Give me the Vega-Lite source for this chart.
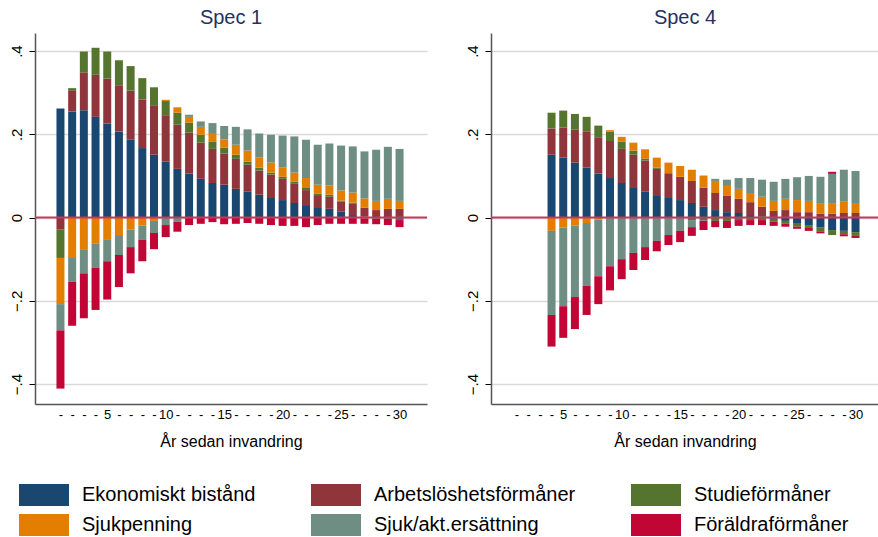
{
  "$schema": "https://vega.github.io/schema/vega-lite/v6.json",
  "background": "white",
  "padding": {"left": 9, "top": 8, "right": 0, "bottom": 0},
  "config": {
    "font": "Liberation Sans",
    "view": {"stroke": null},
    "concat": {"spacing": 37},
    "axis": {"labelColor": "black", "titleColor": "black", "titleFontWeight": "normal", "domainColor": "#555555", "domainWidth": 1.5, "tickColor": "black"},
    "title": {"fontSize": 20, "fontWeight": "normal", "color": "#1f3260", "offset": 5},
    "legend": {
      "orient": "none", "legendX": -2, "legendY": 451, "columns": 3, "direction": "horizontal",
      "symbolType": "M-2.2727,-1H2.2727V1H-2.2727Z", "symbolSize": 484, "symbolOpacity": 1, "symbolStrokeWidth": 0,
      "labelFontSize": 20, "labelOffset": 27, "labelColor": "black", "columnPadding": 55, "rowPadding": 8, "padding": 0, "labelLimit": 400
    }
  },
  "data": {"values": [
    {"spec":"Spec 1","year":1,"cat":"Ekonomiskt bistånd","value":0.262},
    {"spec":"Spec 1","year":1,"cat":"Arbetslöshetsförmåner","value":-0.028},
    {"spec":"Spec 1","year":1,"cat":"Studieförmåner","value":-0.069},
    {"spec":"Spec 1","year":1,"cat":"Sjukpenning","value":-0.111},
    {"spec":"Spec 1","year":1,"cat":"Sjuk/akt.ersättning","value":-0.063},
    {"spec":"Spec 1","year":1,"cat":"Föräldraförmåner","value":-0.140},
    {"spec":"Spec 1","year":2,"cat":"Ekonomiskt bistånd","value":0.255},
    {"spec":"Spec 1","year":2,"cat":"Arbetslöshetsförmåner","value":0.051},
    {"spec":"Spec 1","year":2,"cat":"Studieförmåner","value":0.005},
    {"spec":"Spec 1","year":2,"cat":"Sjukpenning","value":-0.095},
    {"spec":"Spec 1","year":2,"cat":"Sjuk/akt.ersättning","value":-0.059},
    {"spec":"Spec 1","year":2,"cat":"Föräldraförmåner","value":-0.106},
    {"spec":"Spec 1","year":3,"cat":"Ekonomiskt bistånd","value":0.258},
    {"spec":"Spec 1","year":3,"cat":"Arbetslöshetsförmåner","value":0.091},
    {"spec":"Spec 1","year":3,"cat":"Studieförmåner","value":0.050},
    {"spec":"Spec 1","year":3,"cat":"Sjukpenning","value":-0.076},
    {"spec":"Spec 1","year":3,"cat":"Sjuk/akt.ersättning","value":-0.058},
    {"spec":"Spec 1","year":3,"cat":"Föräldraförmåner","value":-0.108},
    {"spec":"Spec 1","year":4,"cat":"Ekonomiskt bistånd","value":0.242},
    {"spec":"Spec 1","year":4,"cat":"Arbetslöshetsförmåner","value":0.101},
    {"spec":"Spec 1","year":4,"cat":"Studieförmåner","value":0.065},
    {"spec":"Spec 1","year":4,"cat":"Sjukpenning","value":-0.063},
    {"spec":"Spec 1","year":4,"cat":"Sjuk/akt.ersättning","value":-0.058},
    {"spec":"Spec 1","year":4,"cat":"Föräldraförmåner","value":-0.101},
    {"spec":"Spec 1","year":5,"cat":"Ekonomiskt bistånd","value":0.226},
    {"spec":"Spec 1","year":5,"cat":"Arbetslöshetsförmåner","value":0.108},
    {"spec":"Spec 1","year":5,"cat":"Studieförmåner","value":0.065},
    {"spec":"Spec 1","year":5,"cat":"Sjukpenning","value":-0.052},
    {"spec":"Spec 1","year":5,"cat":"Sjuk/akt.ersättning","value":-0.053},
    {"spec":"Spec 1","year":5,"cat":"Föräldraförmåner","value":-0.092},
    {"spec":"Spec 1","year":6,"cat":"Ekonomiskt bistånd","value":0.207},
    {"spec":"Spec 1","year":6,"cat":"Arbetslöshetsförmåner","value":0.111},
    {"spec":"Spec 1","year":6,"cat":"Studieförmåner","value":0.060},
    {"spec":"Spec 1","year":6,"cat":"Sjukpenning","value":-0.042},
    {"spec":"Spec 1","year":6,"cat":"Sjuk/akt.ersättning","value":-0.048},
    {"spec":"Spec 1","year":6,"cat":"Föräldraförmåner","value":-0.077},
    {"spec":"Spec 1","year":7,"cat":"Ekonomiskt bistånd","value":0.188},
    {"spec":"Spec 1","year":7,"cat":"Arbetslöshetsförmåner","value":0.117},
    {"spec":"Spec 1","year":7,"cat":"Studieförmåner","value":0.059},
    {"spec":"Spec 1","year":7,"cat":"Sjukpenning","value":-0.029},
    {"spec":"Spec 1","year":7,"cat":"Sjuk/akt.ersättning","value":-0.042},
    {"spec":"Spec 1","year":7,"cat":"Föräldraförmåner","value":-0.063},
    {"spec":"Spec 1","year":8,"cat":"Ekonomiskt bistånd","value":0.167},
    {"spec":"Spec 1","year":8,"cat":"Arbetslöshetsförmåner","value":0.117},
    {"spec":"Spec 1","year":8,"cat":"Studieförmåner","value":0.051},
    {"spec":"Spec 1","year":8,"cat":"Sjukpenning","value":-0.019},
    {"spec":"Spec 1","year":8,"cat":"Sjuk/akt.ersättning","value":-0.034},
    {"spec":"Spec 1","year":8,"cat":"Föräldraförmåner","value":-0.052},
    {"spec":"Spec 1","year":9,"cat":"Ekonomiskt bistånd","value":0.151},
    {"spec":"Spec 1","year":9,"cat":"Arbetslöshetsförmåner","value":0.119},
    {"spec":"Spec 1","year":9,"cat":"Studieförmåner","value":0.043},
    {"spec":"Spec 1","year":9,"cat":"Sjukpenning","value":-0.008},
    {"spec":"Spec 1","year":9,"cat":"Sjuk/akt.ersättning","value":-0.029},
    {"spec":"Spec 1","year":9,"cat":"Föräldraförmåner","value":-0.039},
    {"spec":"Spec 1","year":10,"cat":"Ekonomiskt bistånd","value":0.135},
    {"spec":"Spec 1","year":10,"cat":"Arbetslöshetsförmåner","value":0.111},
    {"spec":"Spec 1","year":10,"cat":"Studieförmåner","value":0.034},
    {"spec":"Spec 1","year":10,"cat":"Sjukpenning","value":0.003},
    {"spec":"Spec 1","year":10,"cat":"Sjuk/akt.ersättning","value":-0.018},
    {"spec":"Spec 1","year":10,"cat":"Föräldraförmåner","value":-0.029},
    {"spec":"Spec 1","year":11,"cat":"Ekonomiskt bistånd","value":0.117},
    {"spec":"Spec 1","year":11,"cat":"Arbetslöshetsförmåner","value":0.106},
    {"spec":"Spec 1","year":11,"cat":"Studieförmåner","value":0.029},
    {"spec":"Spec 1","year":11,"cat":"Sjukpenning","value":0.013},
    {"spec":"Spec 1","year":11,"cat":"Sjuk/akt.ersättning","value":-0.010},
    {"spec":"Spec 1","year":11,"cat":"Föräldraförmåner","value":-0.024},
    {"spec":"Spec 1","year":12,"cat":"Ekonomiskt bistånd","value":0.106},
    {"spec":"Spec 1","year":12,"cat":"Arbetslöshetsförmåner","value":0.098},
    {"spec":"Spec 1","year":12,"cat":"Studieförmåner","value":0.024},
    {"spec":"Spec 1","year":12,"cat":"Sjukpenning","value":0.014},
    {"spec":"Spec 1","year":12,"cat":"Sjuk/akt.ersättning","value":0.005},
    {"spec":"Spec 1","year":12,"cat":"Föräldraförmåner","value":-0.018},
    {"spec":"Spec 1","year":13,"cat":"Ekonomiskt bistånd","value":0.093},
    {"spec":"Spec 1","year":13,"cat":"Arbetslöshetsförmåner","value":0.087},
    {"spec":"Spec 1","year":13,"cat":"Studieförmåner","value":0.019},
    {"spec":"Spec 1","year":13,"cat":"Sjukpenning","value":0.019},
    {"spec":"Spec 1","year":13,"cat":"Sjuk/akt.ersättning","value":0.013},
    {"spec":"Spec 1","year":13,"cat":"Föräldraförmåner","value":-0.015},
    {"spec":"Spec 1","year":14,"cat":"Ekonomiskt bistånd","value":0.083},
    {"spec":"Spec 1","year":14,"cat":"Arbetslöshetsförmåner","value":0.082},
    {"spec":"Spec 1","year":14,"cat":"Studieförmåner","value":0.018},
    {"spec":"Spec 1","year":14,"cat":"Sjukpenning","value":0.018},
    {"spec":"Spec 1","year":14,"cat":"Sjuk/akt.ersättning","value":0.026},
    {"spec":"Spec 1","year":14,"cat":"Föräldraförmåner","value":-0.011},
    {"spec":"Spec 1","year":15,"cat":"Ekonomiskt bistånd","value":0.079},
    {"spec":"Spec 1","year":15,"cat":"Arbetslöshetsförmåner","value":0.075},
    {"spec":"Spec 1","year":15,"cat":"Studieförmåner","value":0.014},
    {"spec":"Spec 1","year":15,"cat":"Sjukpenning","value":0.020},
    {"spec":"Spec 1","year":15,"cat":"Sjuk/akt.ersättning","value":0.032},
    {"spec":"Spec 1","year":15,"cat":"Föräldraförmåner","value":-0.016},
    {"spec":"Spec 1","year":16,"cat":"Ekonomiskt bistånd","value":0.069},
    {"spec":"Spec 1","year":16,"cat":"Arbetslöshetsförmåner","value":0.072},
    {"spec":"Spec 1","year":16,"cat":"Studieförmåner","value":0.010},
    {"spec":"Spec 1","year":16,"cat":"Sjukpenning","value":0.024},
    {"spec":"Spec 1","year":16,"cat":"Sjuk/akt.ersättning","value":0.043},
    {"spec":"Spec 1","year":16,"cat":"Föräldraförmåner","value":-0.015},
    {"spec":"Spec 1","year":17,"cat":"Ekonomiskt bistånd","value":0.062},
    {"spec":"Spec 1","year":17,"cat":"Arbetslöshetsförmåner","value":0.065},
    {"spec":"Spec 1","year":17,"cat":"Studieförmåner","value":0.007},
    {"spec":"Spec 1","year":17,"cat":"Sjukpenning","value":0.027},
    {"spec":"Spec 1","year":17,"cat":"Sjuk/akt.ersättning","value":0.051},
    {"spec":"Spec 1","year":17,"cat":"Föräldraförmåner","value":-0.013},
    {"spec":"Spec 1","year":18,"cat":"Ekonomiskt bistånd","value":0.055},
    {"spec":"Spec 1","year":18,"cat":"Arbetslöshetsförmåner","value":0.058},
    {"spec":"Spec 1","year":18,"cat":"Studieförmåner","value":0.007},
    {"spec":"Spec 1","year":18,"cat":"Sjukpenning","value":0.024},
    {"spec":"Spec 1","year":18,"cat":"Sjuk/akt.ersättning","value":0.058},
    {"spec":"Spec 1","year":18,"cat":"Föräldraförmåner","value":-0.015},
    {"spec":"Spec 1","year":19,"cat":"Ekonomiskt bistånd","value":0.047},
    {"spec":"Spec 1","year":19,"cat":"Arbetslöshetsförmåner","value":0.056},
    {"spec":"Spec 1","year":19,"cat":"Studieförmåner","value":0.005},
    {"spec":"Spec 1","year":19,"cat":"Sjukpenning","value":0.024},
    {"spec":"Spec 1","year":19,"cat":"Sjuk/akt.ersättning","value":0.067},
    {"spec":"Spec 1","year":19,"cat":"Föräldraförmåner","value":-0.018},
    {"spec":"Spec 1","year":20,"cat":"Ekonomiskt bistånd","value":0.042},
    {"spec":"Spec 1","year":20,"cat":"Arbetslöshetsförmåner","value":0.051},
    {"spec":"Spec 1","year":20,"cat":"Studieförmåner","value":0.005},
    {"spec":"Spec 1","year":20,"cat":"Sjukpenning","value":0.022},
    {"spec":"Spec 1","year":20,"cat":"Sjuk/akt.ersättning","value":0.077},
    {"spec":"Spec 1","year":20,"cat":"Föräldraförmåner","value":-0.020},
    {"spec":"Spec 1","year":21,"cat":"Ekonomiskt bistånd","value":0.035},
    {"spec":"Spec 1","year":21,"cat":"Arbetslöshetsförmåner","value":0.046},
    {"spec":"Spec 1","year":21,"cat":"Studieförmåner","value":0.005},
    {"spec":"Spec 1","year":21,"cat":"Sjukpenning","value":0.022},
    {"spec":"Spec 1","year":21,"cat":"Sjuk/akt.ersättning","value":0.087},
    {"spec":"Spec 1","year":21,"cat":"Föräldraförmåner","value":-0.020},
    {"spec":"Spec 1","year":22,"cat":"Ekonomiskt bistånd","value":0.030},
    {"spec":"Spec 1","year":22,"cat":"Arbetslöshetsförmåner","value":0.036},
    {"spec":"Spec 1","year":22,"cat":"Studieförmåner","value":0.005},
    {"spec":"Spec 1","year":22,"cat":"Sjukpenning","value":0.024},
    {"spec":"Spec 1","year":22,"cat":"Sjuk/akt.ersättning","value":0.092},
    {"spec":"Spec 1","year":22,"cat":"Föräldraförmåner","value":-0.023},
    {"spec":"Spec 1","year":23,"cat":"Ekonomiskt bistånd","value":0.023},
    {"spec":"Spec 1","year":23,"cat":"Arbetslöshetsförmåner","value":0.031},
    {"spec":"Spec 1","year":23,"cat":"Studieförmåner","value":0.003},
    {"spec":"Spec 1","year":23,"cat":"Sjukpenning","value":0.022},
    {"spec":"Spec 1","year":23,"cat":"Sjuk/akt.ersättning","value":0.096},
    {"spec":"Spec 1","year":23,"cat":"Föräldraförmåner","value":-0.018},
    {"spec":"Spec 1","year":24,"cat":"Ekonomiskt bistånd","value":0.021},
    {"spec":"Spec 1","year":24,"cat":"Arbetslöshetsförmåner","value":0.029},
    {"spec":"Spec 1","year":24,"cat":"Studieförmåner","value":0.005},
    {"spec":"Spec 1","year":24,"cat":"Sjukpenning","value":0.022},
    {"spec":"Spec 1","year":24,"cat":"Sjuk/akt.ersättning","value":0.101},
    {"spec":"Spec 1","year":24,"cat":"Föräldraförmåner","value":-0.015},
    {"spec":"Spec 1","year":25,"cat":"Ekonomiskt bistånd","value":0.014},
    {"spec":"Spec 1","year":25,"cat":"Arbetslöshetsförmåner","value":0.024},
    {"spec":"Spec 1","year":25,"cat":"Studieförmåner","value":0.003},
    {"spec":"Spec 1","year":25,"cat":"Sjukpenning","value":0.024},
    {"spec":"Spec 1","year":25,"cat":"Sjuk/akt.ersättning","value":0.108},
    {"spec":"Spec 1","year":25,"cat":"Föräldraförmåner","value":-0.015},
    {"spec":"Spec 1","year":26,"cat":"Ekonomiskt bistånd","value":0.006},
    {"spec":"Spec 1","year":26,"cat":"Arbetslöshetsförmåner","value":0.027},
    {"spec":"Spec 1","year":26,"cat":"Studieförmåner","value":0.003},
    {"spec":"Spec 1","year":26,"cat":"Sjukpenning","value":0.024},
    {"spec":"Spec 1","year":26,"cat":"Sjuk/akt.ersättning","value":0.111},
    {"spec":"Spec 1","year":26,"cat":"Föräldraförmåner","value":-0.015},
    {"spec":"Spec 1","year":27,"cat":"Ekonomiskt bistånd","value":0.002},
    {"spec":"Spec 1","year":27,"cat":"Arbetslöshetsförmåner","value":0.022},
    {"spec":"Spec 1","year":27,"cat":"Studieförmåner","value":-0.002},
    {"spec":"Spec 1","year":27,"cat":"Sjukpenning","value":0.022},
    {"spec":"Spec 1","year":27,"cat":"Sjuk/akt.ersättning","value":0.113},
    {"spec":"Spec 1","year":27,"cat":"Föräldraförmåner","value":-0.013},
    {"spec":"Spec 1","year":28,"cat":"Arbetslöshetsförmåner","value":0.018},
    {"spec":"Spec 1","year":28,"cat":"Studieförmåner","value":-0.003},
    {"spec":"Spec 1","year":28,"cat":"Sjukpenning","value":0.022},
    {"spec":"Spec 1","year":28,"cat":"Sjuk/akt.ersättning","value":0.123},
    {"spec":"Spec 1","year":28,"cat":"Föräldraförmåner","value":-0.013},
    {"spec":"Spec 1","year":29,"cat":"Arbetslöshetsförmåner","value":0.021},
    {"spec":"Spec 1","year":29,"cat":"Studieförmåner","value":-0.003},
    {"spec":"Spec 1","year":29,"cat":"Sjukpenning","value":0.024},
    {"spec":"Spec 1","year":29,"cat":"Sjuk/akt.ersättning","value":0.125},
    {"spec":"Spec 1","year":29,"cat":"Föräldraförmåner","value":-0.015},
    {"spec":"Spec 1","year":30,"cat":"Ekonomiskt bistånd","value":-0.003},
    {"spec":"Spec 1","year":30,"cat":"Arbetslöshetsförmåner","value":0.021},
    {"spec":"Spec 1","year":30,"cat":"Studieförmåner","value":-0.003},
    {"spec":"Spec 1","year":30,"cat":"Sjukpenning","value":0.019},
    {"spec":"Spec 1","year":30,"cat":"Sjuk/akt.ersättning","value":0.125},
    {"spec":"Spec 1","year":30,"cat":"Föräldraförmåner","value":-0.017},

    {"spec":"Spec 4","year":4,"cat":"Ekonomiskt bistånd","value":0.151},
    {"spec":"Spec 4","year":4,"cat":"Arbetslöshetsförmåner","value":0.063},
    {"spec":"Spec 4","year":4,"cat":"Studieförmåner","value":0.038},
    {"spec":"Spec 4","year":4,"cat":"Sjukpenning","value":-0.032},
    {"spec":"Spec 4","year":4,"cat":"Sjuk/akt.ersättning","value":-0.202},
    {"spec":"Spec 4","year":4,"cat":"Föräldraförmåner","value":-0.076},
    {"spec":"Spec 4","year":5,"cat":"Ekonomiskt bistånd","value":0.144},
    {"spec":"Spec 4","year":5,"cat":"Arbetslöshetsförmåner","value":0.072},
    {"spec":"Spec 4","year":5,"cat":"Studieförmåner","value":0.041},
    {"spec":"Spec 4","year":5,"cat":"Sjukpenning","value":-0.024},
    {"spec":"Spec 4","year":5,"cat":"Sjuk/akt.ersättning","value":-0.189},
    {"spec":"Spec 4","year":5,"cat":"Föräldraförmåner","value":-0.076},
    {"spec":"Spec 4","year":6,"cat":"Ekonomiskt bistånd","value":0.132},
    {"spec":"Spec 4","year":6,"cat":"Arbetslöshetsförmåner","value":0.079},
    {"spec":"Spec 4","year":6,"cat":"Studieförmåner","value":0.038},
    {"spec":"Spec 4","year":6,"cat":"Sjukpenning","value":-0.019},
    {"spec":"Spec 4","year":6,"cat":"Sjuk/akt.ersättning","value":-0.172},
    {"spec":"Spec 4","year":6,"cat":"Föräldraförmåner","value":-0.077},
    {"spec":"Spec 4","year":7,"cat":"Ekonomiskt bistånd","value":0.120},
    {"spec":"Spec 4","year":7,"cat":"Arbetslöshetsförmåner","value":0.086},
    {"spec":"Spec 4","year":7,"cat":"Studieförmåner","value":0.036},
    {"spec":"Spec 4","year":7,"cat":"Sjukpenning","value":-0.013},
    {"spec":"Spec 4","year":7,"cat":"Sjuk/akt.ersättning","value":-0.151},
    {"spec":"Spec 4","year":7,"cat":"Föräldraförmåner","value":-0.070},
    {"spec":"Spec 4","year":8,"cat":"Ekonomiskt bistånd","value":0.106},
    {"spec":"Spec 4","year":8,"cat":"Arbetslöshetsförmåner","value":0.087},
    {"spec":"Spec 4","year":8,"cat":"Studieförmåner","value":0.028},
    {"spec":"Spec 4","year":8,"cat":"Sjukpenning","value":-0.005},
    {"spec":"Spec 4","year":8,"cat":"Sjuk/akt.ersättning","value":-0.136},
    {"spec":"Spec 4","year":8,"cat":"Föräldraförmåner","value":-0.067},
    {"spec":"Spec 4","year":9,"cat":"Ekonomiskt bistånd","value":0.095},
    {"spec":"Spec 4","year":9,"cat":"Arbetslöshetsförmåner","value":0.089},
    {"spec":"Spec 4","year":9,"cat":"Studieförmåner","value":0.022},
    {"spec":"Spec 4","year":9,"cat":"Sjukpenning","value":0.004},
    {"spec":"Spec 4","year":9,"cat":"Sjuk/akt.ersättning","value":-0.117},
    {"spec":"Spec 4","year":9,"cat":"Föräldraförmåner","value":-0.058},
    {"spec":"Spec 4","year":10,"cat":"Ekonomiskt bistånd","value":0.083},
    {"spec":"Spec 4","year":10,"cat":"Arbetslöshetsförmåner","value":0.082},
    {"spec":"Spec 4","year":10,"cat":"Studieförmåner","value":0.017},
    {"spec":"Spec 4","year":10,"cat":"Sjukpenning","value":0.012},
    {"spec":"Spec 4","year":10,"cat":"Sjuk/akt.ersättning","value":-0.100},
    {"spec":"Spec 4","year":10,"cat":"Föräldraförmåner","value":-0.048},
    {"spec":"Spec 4","year":11,"cat":"Ekonomiskt bistånd","value":0.071},
    {"spec":"Spec 4","year":11,"cat":"Arbetslöshetsförmåner","value":0.080},
    {"spec":"Spec 4","year":11,"cat":"Studieförmåner","value":0.010},
    {"spec":"Spec 4","year":11,"cat":"Sjukpenning","value":0.019},
    {"spec":"Spec 4","year":11,"cat":"Sjuk/akt.ersättning","value":-0.085},
    {"spec":"Spec 4","year":11,"cat":"Föräldraförmåner","value":-0.041},
    {"spec":"Spec 4","year":12,"cat":"Ekonomiskt bistånd","value":0.062},
    {"spec":"Spec 4","year":12,"cat":"Arbetslöshetsförmåner","value":0.075},
    {"spec":"Spec 4","year":12,"cat":"Studieförmåner","value":0.005},
    {"spec":"Spec 4","year":12,"cat":"Sjukpenning","value":0.022},
    {"spec":"Spec 4","year":12,"cat":"Sjuk/akt.ersättning","value":-0.071},
    {"spec":"Spec 4","year":12,"cat":"Föräldraförmåner","value":-0.031},
    {"spec":"Spec 4","year":13,"cat":"Ekonomiskt bistånd","value":0.054},
    {"spec":"Spec 4","year":13,"cat":"Arbetslöshetsförmåner","value":0.063},
    {"spec":"Spec 4","year":13,"cat":"Studieförmåner","value":0.003},
    {"spec":"Spec 4","year":13,"cat":"Sjukpenning","value":0.024},
    {"spec":"Spec 4","year":13,"cat":"Sjuk/akt.ersättning","value":-0.056},
    {"spec":"Spec 4","year":13,"cat":"Föräldraförmåner","value":-0.025},
    {"spec":"Spec 4","year":14,"cat":"Ekonomiskt bistånd","value":0.047},
    {"spec":"Spec 4","year":14,"cat":"Arbetslöshetsförmåner","value":0.058},
    {"spec":"Spec 4","year":14,"cat":"Studieförmåner","value":0.002},
    {"spec":"Spec 4","year":14,"cat":"Sjukpenning","value":0.025},
    {"spec":"Spec 4","year":14,"cat":"Sjuk/akt.ersättning","value":-0.042},
    {"spec":"Spec 4","year":14,"cat":"Föräldraförmåner","value":-0.024},
    {"spec":"Spec 4","year":15,"cat":"Ekonomiskt bistånd","value":0.042},
    {"spec":"Spec 4","year":15,"cat":"Arbetslöshetsförmåner","value":0.056},
    {"spec":"Spec 4","year":15,"cat":"Studieförmåner","value":-0.003},
    {"spec":"Spec 4","year":15,"cat":"Sjukpenning","value":0.026},
    {"spec":"Spec 4","year":15,"cat":"Sjuk/akt.ersättning","value":-0.029},
    {"spec":"Spec 4","year":15,"cat":"Föräldraförmåner","value":-0.027},
    {"spec":"Spec 4","year":16,"cat":"Ekonomiskt bistånd","value":0.035},
    {"spec":"Spec 4","year":16,"cat":"Arbetslöshetsförmåner","value":0.053},
    {"spec":"Spec 4","year":16,"cat":"Studieförmåner","value":-0.006},
    {"spec":"Spec 4","year":16,"cat":"Sjukpenning","value":0.027},
    {"spec":"Spec 4","year":16,"cat":"Sjuk/akt.ersättning","value":-0.017},
    {"spec":"Spec 4","year":16,"cat":"Föräldraförmåner","value":-0.021},
    {"spec":"Spec 4","year":17,"cat":"Ekonomiskt bistånd","value":0.026},
    {"spec":"Spec 4","year":17,"cat":"Arbetslöshetsförmåner","value":0.046},
    {"spec":"Spec 4","year":17,"cat":"Studieförmåner","value":-0.006},
    {"spec":"Spec 4","year":17,"cat":"Sjukpenning","value":0.029},
    {"spec":"Spec 4","year":17,"cat":"Sjuk/akt.ersättning","value":-0.002},
    {"spec":"Spec 4","year":17,"cat":"Föräldraförmåner","value":-0.022},
    {"spec":"Spec 4","year":18,"cat":"Ekonomiskt bistånd","value":0.018},
    {"spec":"Spec 4","year":18,"cat":"Arbetslöshetsförmåner","value":0.041},
    {"spec":"Spec 4","year":18,"cat":"Studieförmåner","value":-0.008},
    {"spec":"Spec 4","year":18,"cat":"Sjukpenning","value":0.029},
    {"spec":"Spec 4","year":18,"cat":"Sjuk/akt.ersättning","value":0.005},
    {"spec":"Spec 4","year":18,"cat":"Föräldraförmåner","value":-0.015},
    {"spec":"Spec 4","year":19,"cat":"Ekonomiskt bistånd","value":0.013},
    {"spec":"Spec 4","year":19,"cat":"Arbetslöshetsförmåner","value":0.039},
    {"spec":"Spec 4","year":19,"cat":"Studieförmåner","value":-0.008},
    {"spec":"Spec 4","year":19,"cat":"Sjukpenning","value":0.024},
    {"spec":"Spec 4","year":19,"cat":"Sjuk/akt.ersättning","value":0.015},
    {"spec":"Spec 4","year":19,"cat":"Föräldraförmåner","value":-0.017},
    {"spec":"Spec 4","year":20,"cat":"Ekonomiskt bistånd","value":0.011},
    {"spec":"Spec 4","year":20,"cat":"Arbetslöshetsförmåner","value":0.034},
    {"spec":"Spec 4","year":20,"cat":"Studieförmåner","value":-0.006},
    {"spec":"Spec 4","year":20,"cat":"Sjukpenning","value":0.024},
    {"spec":"Spec 4","year":20,"cat":"Sjuk/akt.ersättning","value":0.026},
    {"spec":"Spec 4","year":20,"cat":"Föräldraförmåner","value":-0.014},
    {"spec":"Spec 4","year":21,"cat":"Ekonomiskt bistånd","value":0.006},
    {"spec":"Spec 4","year":21,"cat":"Arbetslöshetsförmåner","value":0.031},
    {"spec":"Spec 4","year":21,"cat":"Studieförmåner","value":-0.006},
    {"spec":"Spec 4","year":21,"cat":"Sjukpenning","value":0.022},
    {"spec":"Spec 4","year":21,"cat":"Sjuk/akt.ersättning","value":0.036},
    {"spec":"Spec 4","year":21,"cat":"Föräldraförmåner","value":-0.012},
    {"spec":"Spec 4","year":22,"cat":"Ekonomiskt bistånd","value":0.003},
    {"spec":"Spec 4","year":22,"cat":"Arbetslöshetsförmåner","value":0.023},
    {"spec":"Spec 4","year":22,"cat":"Studieförmåner","value":-0.006},
    {"spec":"Spec 4","year":22,"cat":"Sjukpenning","value":0.024},
    {"spec":"Spec 4","year":22,"cat":"Sjuk/akt.ersättning","value":0.041},
    {"spec":"Spec 4","year":22,"cat":"Föräldraförmåner","value":-0.012},
    {"spec":"Spec 4","year":23,"cat":"Ekonomiskt bistånd","value":-0.003},
    {"spec":"Spec 4","year":23,"cat":"Arbetslöshetsförmåner","value":0.016},
    {"spec":"Spec 4","year":23,"cat":"Studieförmåner","value":-0.007},
    {"spec":"Spec 4","year":23,"cat":"Sjukpenning","value":0.024},
    {"spec":"Spec 4","year":23,"cat":"Sjuk/akt.ersättning","value":0.046},
    {"spec":"Spec 4","year":23,"cat":"Föräldraförmåner","value":-0.010},
    {"spec":"Spec 4","year":24,"cat":"Ekonomiskt bistånd","value":-0.008},
    {"spec":"Spec 4","year":24,"cat":"Arbetslöshetsförmåner","value":0.018},
    {"spec":"Spec 4","year":24,"cat":"Studieförmåner","value":-0.007},
    {"spec":"Spec 4","year":24,"cat":"Sjukpenning","value":0.027},
    {"spec":"Spec 4","year":24,"cat":"Sjuk/akt.ersättning","value":0.048},
    {"spec":"Spec 4","year":24,"cat":"Föräldraförmåner","value":-0.007},
    {"spec":"Spec 4","year":25,"cat":"Ekonomiskt bistånd","value":-0.015},
    {"spec":"Spec 4","year":25,"cat":"Arbetslöshetsförmåner","value":0.013},
    {"spec":"Spec 4","year":25,"cat":"Studieförmåner","value":-0.007},
    {"spec":"Spec 4","year":25,"cat":"Sjukpenning","value":0.029},
    {"spec":"Spec 4","year":25,"cat":"Sjuk/akt.ersättning","value":0.055},
    {"spec":"Spec 4","year":25,"cat":"Föräldraförmåner","value":-0.005},
    {"spec":"Spec 4","year":26,"cat":"Ekonomiskt bistånd","value":-0.018},
    {"spec":"Spec 4","year":26,"cat":"Arbetslöshetsförmåner","value":0.013},
    {"spec":"Spec 4","year":26,"cat":"Studieförmåner","value":-0.007},
    {"spec":"Spec 4","year":26,"cat":"Sjukpenning","value":0.027},
    {"spec":"Spec 4","year":26,"cat":"Sjuk/akt.ersättning","value":0.060},
    {"spec":"Spec 4","year":26,"cat":"Föräldraförmåner","value":-0.007},
    {"spec":"Spec 4","year":27,"cat":"Ekonomiskt bistånd","value":-0.023},
    {"spec":"Spec 4","year":27,"cat":"Arbetslöshetsförmåner","value":0.009},
    {"spec":"Spec 4","year":27,"cat":"Studieförmåner","value":-0.010},
    {"spec":"Spec 4","year":27,"cat":"Sjukpenning","value":0.024},
    {"spec":"Spec 4","year":27,"cat":"Sjuk/akt.ersättning","value":0.065},
    {"spec":"Spec 4","year":27,"cat":"Föräldraförmåner","value":-0.005},
    {"spec":"Spec 4","year":28,"cat":"Ekonomiskt bistånd","value":-0.030},
    {"spec":"Spec 4","year":28,"cat":"Arbetslöshetsförmåner","value":0.009},
    {"spec":"Spec 4","year":28,"cat":"Studieförmåner","value":-0.012},
    {"spec":"Spec 4","year":28,"cat":"Sjukpenning","value":0.024},
    {"spec":"Spec 4","year":28,"cat":"Sjuk/akt.ersättning","value":0.072},
    {"spec":"Spec 4","year":28,"cat":"Föräldraförmåner","value":0.005},
    {"spec":"Spec 4","year":29,"cat":"Ekonomiskt bistånd","value":-0.032},
    {"spec":"Spec 4","year":29,"cat":"Arbetslöshetsförmåner","value":0.011},
    {"spec":"Spec 4","year":29,"cat":"Studieförmåner","value":-0.008},
    {"spec":"Spec 4","year":29,"cat":"Sjukpenning","value":0.027},
    {"spec":"Spec 4","year":29,"cat":"Sjuk/akt.ersättning","value":0.077},
    {"spec":"Spec 4","year":29,"cat":"Föräldraförmåner","value":-0.005},
    {"spec":"Spec 4","year":30,"cat":"Ekonomiskt bistånd","value":-0.035},
    {"spec":"Spec 4","year":30,"cat":"Arbetslöshetsförmåner","value":0.011},
    {"spec":"Spec 4","year":30,"cat":"Studieförmåner","value":-0.009},
    {"spec":"Spec 4","year":30,"cat":"Sjukpenning","value":0.024},
    {"spec":"Spec 4","year":30,"cat":"Sjuk/akt.ersättning","value":0.077},
    {"spec":"Spec 4","year":30,"cat":"Föräldraförmåner","value":-0.005}
  ]},
  "transform": [
    {"calculate": "indexof(['Ekonomiskt bistånd','Arbetslöshetsförmåner','Studieförmåner','Sjukpenning','Sjuk/akt.ersättning','Föräldraförmåner'], datum.cat)", "as": "ord"}
  ],
  "hconcat": [
    {
      "title": "Spec 1",
      "width": 392,
      "height": 371,
      "transform": [{"filter": "datum.spec == 'Spec 1'"}],
      "layer": [
        {
          "mark": {"type": "bar", "size": 8},
          "encoding": {
            "x": {"field": "year", "type": "quantitative", "scale": {"domain": [-0.75, 31.92], "nice": false, "zero": false},
              "axis": {"values": [1,2,3,4,5,6,7,8,9,10,11,12,13,14,15,16,17,18,19,20,21,22,23,24,25,26,27,28,29,30], "labelExpr": "datum.value % 5 == 0 ? datum.label : '-'", "ticks": false, "grid": false, "labelFontSize": 13, "labelPadding": 4, "labelFlush": false, "labelOverlap": false, "title": "År sedan invandring", "titleFontSize": 16, "titlePadding": 12}},
            "y": {"field": "value", "type": "quantitative", "stack": "zero", "scale": {"domain": [-0.448, 0.4435], "nice": false, "zero": false},
              "axis": {"values": [-0.4, -0.2, 0, 0.2, 0.4], "labelExpr": "datum.value == 0 ? '0' : replace(format(datum.value, '.1f'), '0.', '.')", "labelAngle": -90, "labelFontSize": 15, "labelPadding": 5, "tickSize": 6, "grid": true, "gridColor": "#d9d9d9", "gridWidth": 1.5, "title": null}},
            "color": {"field": "cat", "type": "nominal", "scale": {"domain": ["Ekonomiskt bistånd","Arbetslöshetsförmåner","Studieförmåner","Sjukpenning","Sjuk/akt.ersättning","Föräldraförmåner"], "range": ["#1a476f","#90353b","#55752f","#e37e00","#6e8e84","#c10534"]}, "legend": {"title": null}},
            "order": {"field": "ord", "type": "quantitative"}
          }
        },
        {
          "data": {"values": [{}]},
          "mark": {"type": "rule", "color": "#c8385e", "strokeWidth": 2},
          "encoding": {"y": {"datum": 0}}
        }
      ]
    },
    {
      "title": "Spec 4",
      "width": 388,
      "height": 371,
      "transform": [{"filter": "datum.spec == 'Spec 4'"}],
      "layer": [
        {
          "mark": {"type": "bar", "size": 8},
          "encoding": {
            "x": {"field": "year", "type": "quantitative", "scale": {"domain": [-0.75, 31.58], "nice": false, "zero": false},
              "axis": {"values": [1,2,3,4,5,6,7,8,9,10,11,12,13,14,15,16,17,18,19,20,21,22,23,24,25,26,27,28,29,30], "labelExpr": "datum.value % 5 == 0 ? datum.label : '-'", "ticks": false, "grid": false, "labelFontSize": 13, "labelPadding": 4, "labelFlush": false, "labelOverlap": false, "title": "År sedan invandring", "titleFontSize": 16, "titlePadding": 12}},
            "y": {"field": "value", "type": "quantitative", "stack": "zero", "scale": {"domain": [-0.448, 0.4435], "nice": false, "zero": false},
              "axis": {"values": [-0.4, -0.2, 0, 0.2, 0.4], "labelExpr": "datum.value == 0 ? '0' : replace(format(datum.value, '.1f'), '0.', '.')", "labelAngle": -90, "labelFontSize": 15, "labelPadding": 5, "tickSize": 6, "grid": true, "gridColor": "#d9d9d9", "gridWidth": 1.5, "title": null}},
            "color": {"field": "cat", "type": "nominal", "scale": {"domain": ["Ekonomiskt bistånd","Arbetslöshetsförmåner","Studieförmåner","Sjukpenning","Sjuk/akt.ersättning","Föräldraförmåner"], "range": ["#1a476f","#90353b","#55752f","#e37e00","#6e8e84","#c10534"]}, "legend": {"title": null}},
            "order": {"field": "ord", "type": "quantitative"}
          }
        },
        {
          "data": {"values": [{}]},
          "mark": {"type": "rule", "color": "#c8385e", "strokeWidth": 2},
          "encoding": {"y": {"datum": 0}}
        }
      ]
    }
  ]
}
